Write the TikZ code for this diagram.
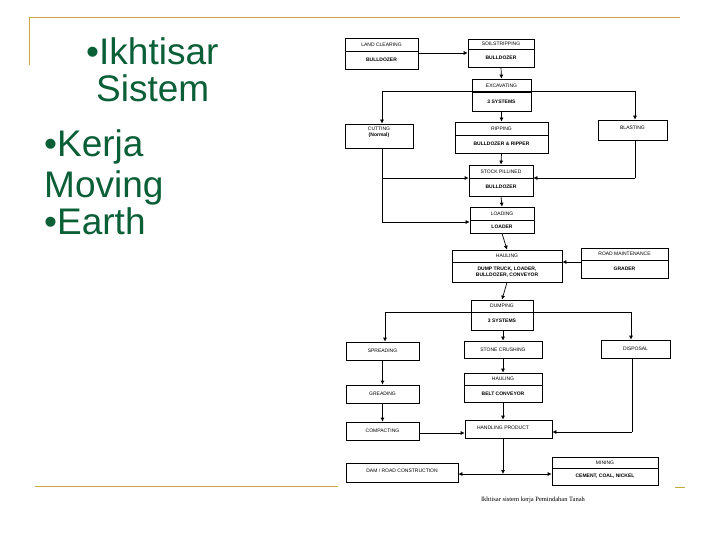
\documentclass[tikz,border=0pt]{standalone}
\usepackage{fontspec}
\setmainfont{Liberation Sans}
\usetikzlibrary{arrows.meta}
\definecolor{gold}{RGB}{200,170,70}
\definecolor{slgreen}{RGB}{10,95,55}
\tikzset{
  bx/.style={draw, line width=0.7pt, inner sep=0pt},
  tt/.style={font=\fontsize{5}{6}\selectfont, inner sep=0pt, align=center},
  tb/.style={font=\bfseries\fontsize{5}{5.6}\selectfont, inner sep=0pt, align=center},
  ar/.style={line width=0.7pt, -{Latex[length=4pt,width=4pt]}},
  ln/.style={line width=0.7pt},
  sl/.style={font=\fontsize{37}{38}\selectfont, text=slgreen, anchor=base west, inner sep=0pt}
}
% \mkbox{name}{x1}{y1}{x2}{y2}
\newcommand\mkbox[5]{%
  \pgfmathsetmacro\bw{#4-#2}\pgfmathsetmacro\bh{#5-#3}%
  \pgfmathsetmacro\cx{(#2+#4)/2}\pgfmathsetmacro\cy{(#3+#5)/2}%
  \node[bx, minimum width=\bw pt, minimum height=\bh pt] (#1) at (\cx,\cy) {};}
% \twobox{name}{x1}{y1}{x2}{y2}{ydiv}{top}{bottom}
\newcommand\twobox[8]{%
  \mkbox{#1}{#2}{#3}{#4}{#5}%
  \draw[ln] (#2,#6) -- (#4,#6);
  \pgfmathsetmacro\ta{(#3+#6)/2}\pgfmathsetmacro\tbb{(#6+#5)/2}%
  \node[tt] (#1t) at (\cx,\ta) {#7};
  \node[tb] (#1b) at (\cx,\tbb) {#8};}
\begin{document}
\begin{tikzpicture}[x=1pt,y=-1pt]
\useasboundingbox (0,0) rectangle (720,540);
% slide frame
\draw[gold, line width=0.8pt] (29,65) -- (29,17) -- (680,17);
\draw[gold, line width=0.8pt] (35,486) -- (338,486);
\draw[gold, line width=0.8pt] (675,487) -- (685,487);
% slide text
\node[sl] (s1) at (86,65) {•Ikhtisar};
\node[sl] (s2) at (96,102) {Sistem};
\node[sl] (s3) at (44,157) {•Kerja};
\node[sl] (s4) at (44,197) {Moving};
\node[sl] (s5) at (44,235) {•Earth};
% boxes
\twobox{land}{345}{38}{418}{69}{51}{LAND CLEARING}{BULLDOZER}
\twobox{soil}{468}{39}{534}{67}{49}{SOILSTRIPPING}{BULLDOZER}
\twobox{exc}{472}{79}{531}{111}{92}{EXCAVATING}{3 SYSTEMS}
\mkbox{cut}{345}{124}{413}{148}
\node[tt, anchor=north] (cutt) at (379,127) {CUTTING\\[-0.5pt]\textbf{(Normal)}};
\twobox{rip}{455}{122}{548}{153}{135}{RIPPING}{BULLDOZER \& RIPPER}
\mkbox{bla}{598}{120}{667}{140}
\node[tt] (blat) at (632.5,128) {BLASTING};
\twobox{sto}{469}{165}{533}{196}{178}{STOCK PILLINED}{BULLDOZER}
\twobox{loa}{470}{207}{534}{233}{220}{LOADING}{LOADER}
\twobox{hau}{452}{250}{562}{282}{262}{HAULING}{DUMP TRUCK, LOADER,\\BULLDOZER, CONVEYOR}
\twobox{road}{581}{248}{668}{278}{260}{ROAD MAINTENANCE}{GRADER}
\twobox{dum}{471}{300}{533}{330}{312}{DUMPING}{3 SYSTEMS}
\mkbox{spr}{346}{342}{419}{360}\node[tt] (sprt) at (spr) {SPREADING};
\mkbox{sto2}{464}{341}{542}{358}\node[tt] (sto2t) at (sto2) {STONE CRUSHING};
\mkbox{dis}{601}{340}{670}{358}\node[tt] (dist) at (dis) {DISPOSAL};
\mkbox{gre}{346}{385}{419}{403}\node[tt] (gret) at (gre) {GREADING};
\twobox{hau2}{464}{373}{542}{402}{385}{HAULING}{BELT CONVEYOR}
\mkbox{com}{346}{422}{419}{440}\node[tt] (comt) at (com) {COMPACTING};
\mkbox{han}{465}{420}{552}{438}\node[tt] (hant) at (503,428) {HANDLING PRODUCT};
\mkbox{dam}{346}{463}{458}{482}\node[tt] (damt) at (402,471) {DAM / ROAD CONSTRUCTION};
\twobox{min}{552}{457}{658}{485}{468}{MINING}{CEMENT, COAL, NICKEL}
% connectors
\draw[ar] (land.east |- 0,53) -- (soil.west |- 0,53);
\draw[ar] (soil.south) -- (exc.north);
\draw[ar] (exc.south) -- (rip.north);
\coordinate (e1) at (382,91); \coordinate (e2) at (635,91);
\draw[ln] (e1) -- (e2);
\draw[ar] (e1) -- (e1 |- cut.north);
\draw[ar] (e2) -- (e2 |- bla.north);
\draw[ar] (rip.south) -- (sto.north);
\coordinate (c1) at (382,222);
\draw[ln] (382,148) -- (c1);
\draw[ar] (c1) -- (loa.west |- c1);
\draw[ar] (382,178) -- (sto.west |- 0,178);
\draw[ln] (635,140) -- (635,178);
\draw[ar] (635,178) -- (sto.east |- 0,178);
\draw[ar] (sto.south) -- (loa.north);
\draw[ar] (loa.south) -- (hau.north);
\draw[ar] (road.west |- 0,262) -- (hau.east |- 0,262);
\draw[ar] (hau.south) -- (dum.north);
\coordinate (d1) at (385,312); \coordinate (d2) at (631,312);
\draw[ln] (d1) -- (d2);
\draw[ar] (d1) -- (d1 |- spr.north);
\draw[ar] (d2) -- (d2 |- dis.north);
\draw[ar] (dum.south -| sto2.north) -- (sto2.north);
\draw[ar] (sto2.south) -- (hau2.north);
\draw[ar] (hau2.south) -- (hau2.south |- han.north);
\draw[ar] (spr.south) -- (gre.north);
\draw[ar] (gre.south) -- (com.north);
\draw[ar] (com.east |- 0,433) -- (han.west |- 0,433);
\draw[ln] (632,358) -- (632,432);
\draw[ar] (632,432) -- (han.east |- 0,432);
\coordinate (h1) at (503,474);
\draw[ar] (503,438) -- (h1);
\draw[ar] (h1) -- (dam.east |- h1);
\draw[ar] (h1) -- (min.west |- h1);
\node[font=\fontfamily{Liberation Serif}\fontsize{6.5}{7}\selectfont, inner sep=0pt] (cap) at (533,500) {\setmainfont{Liberation Serif}\normalfont Ikhtisar sistem kerja Pemindahan Tanah};
\end{tikzpicture}
\end{document}
